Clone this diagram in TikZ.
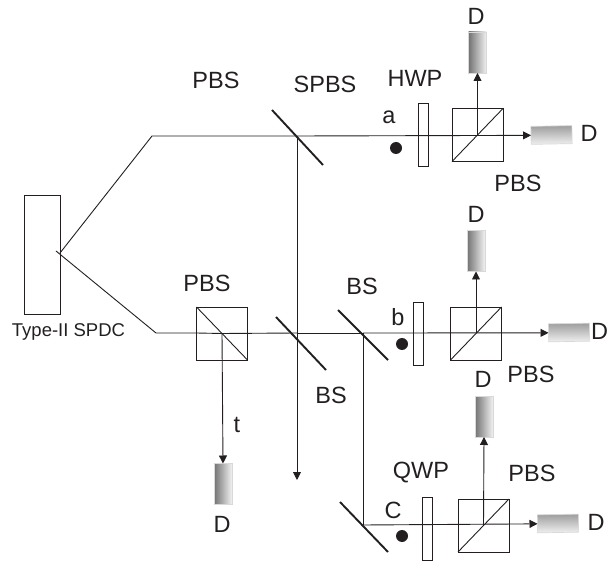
\documentclass[tikz,border=0pt]{standalone}
\usepackage{fontspec}
\setmainfont{Liberation Sans}
\usetikzlibrary{arrows.meta}
\definecolor{ink}{HTML}{231F20}
\tikzset{
  x=1pt,y=-1pt,
  beam/.style={draw=ink,line width=0.9pt},
  ray/.style={beam,-{Triangle[length=8pt,width=8pt]}},
  mirror/.style={draw=ink,line width=1.9pt},
  cube/.style={draw=ink,line width=0.9pt,minimum width=51pt,minimum height=53pt,inner sep=0,outer sep=0},
  plate/.style={draw=ink,line width=0.9pt,minimum width=10pt,minimum height=63pt,inner sep=0,outer sep=0},
  crystal/.style={draw=ink,line width=0.9pt,minimum width=36pt,minimum height=119pt,inner sep=0,outer sep=0},
  detv/.style={draw=black!15,line width=0.7pt,left color=black!55,right color=black!5,minimum width=18pt,minimum height=41pt,inner sep=0,outer sep=0},
  deth/.style={draw=black!15,line width=0.7pt,top color=black!38,bottom color=black!6,minimum width=41pt,minimum height=18pt,inner sep=0,outer sep=0,rotate=1},
  photon/.style={circle,fill=ink,minimum size=12pt,inner sep=0},
  lab/.style={inner sep=0,text=ink,font=\fontsize{23.5}{26}\selectfont},
  smalllab/.style={inner sep=0,text=ink,font=\fontsize{18.5}{21}\selectfont},
}
\begin{document}
\begin{tikzpicture}
\useasboundingbox (0,0) rectangle (608,561);
\clip (0,0) rectangle (608,561);
% key points
\coordinate (src) at (56,251);
\coordinate (srcU) at (60,253);
\coordinate (bendU) at (152,136);
\coordinate (bendL) at (156,333);
\coordinate (spbsC) at (297,136);
\coordinate (spbsA) at (272,110);
\coordinate (spbsB) at (323,165);
\coordinate (bs1A) at (276,317);
\coordinate (bs1B) at (326,370);
\coordinate (bs1C) at (297,333);
\coordinate (tipDown) at (297,480);
\coordinate (bs2A) at (338,310);
\coordinate (bs2B) at (388,360);
\coordinate (bs2C) at (363,333);
\coordinate (m3A) at (340,502);
\coordinate (m3B) at (388,552);
\coordinate (m3C) at (363,525);
% components
\node[crystal] (crys) at (42,254.5) {};
\node[cube] (cubeT) at (477.5,135) {};
\node[cube] (cubeM) at (476,333.5) {};
\node[cube] (cubeB) at (483.5,525.5) {};
\node[cube] (cubeL) at (222,333.5) {};
\node[detv] (dTu) at (477.5,52.5) {};
\node[deth] (dTr) at (551.5,135) {};
\node[detv] (dMu) at (476,251) {};
\node[deth] (dMr) at (569,332.5) {};
\node[detv] (dBu) at (484,416.5) {};
\node[deth] (dBr) at (558,523.5) {};
\node[detv] (dL) at (223,484) {};
% beams
\draw[beam] (src) -- (bendL) -- (bendL -| cubeL.west);
\draw[beam] (srcU) -- (bendU) -- (spbsC);
\draw[ray] (spbsC) -- (dTr.west);
\draw[ray] (spbsC) -- (tipDown);
\draw[beam] (bendL -| cubeL.west) -- (cubeL.center) -- (bs1C);
\draw[beam] (bs1C) -- (bs2C);
\draw[ray] (bs2C) -- (dMr.west);
\draw[beam] (bs2C) -- (m3C);
\draw[ray] (m3C) -- (dBr.west);
\draw[ray] (cubeT.center) -- (dTu.south);
\draw[ray] (cubeM.center) -- (dMu.south);
\draw[ray] (cubeB.center) -- (dBu.south);
\draw[ray] (cubeL.center) -- (dL.north);
% cube diagonals
\draw[beam] (cubeT.south west) -- (cubeT.north east);
\draw[beam] (cubeM.south west) -- (cubeM.north east);
\draw[beam] (cubeB.south west) -- (cubeB.north east);
\draw[beam] (cubeL.north west) -- (cubeL.south east);
% plates (open so the beam runs through)
\node[plate] (pT) at (423,134.5) {};
\node[plate] (pM) at (418,333.5) {};
\node[plate] (pB) at (427,528.5) {};
% mirrors
\draw[mirror] (spbsA) -- (spbsB);
\draw[mirror] (bs1A) -- (bs1B);
\draw[mirror] (bs2A) -- (bs2B);
\draw[mirror] (m3A) -- (m3B);
% photons
\node[photon] (phA) at (396,148) {};
\node[photon] (phB) at (402,344) {};
\node[photon] (phC) at (402,536) {};
% labels
\node[lab] (l1) at (216,80) {PBS};
\node[lab] (l2) at (325,84) {SPBS};
\node[lab] (l3) at (415,78) {HWP};
\node[lab] (l4) at (476,16) {D};
\node[lab] (l5) at (589,133) {D};
\node[lab] (l6) at (518,183) {PBS};
\node[lab] (l7) at (389,117) {a};
\node[lab] (l8) at (476,214) {D};
\node[lab] (l9) at (207,283) {PBS};
\node[lab] (l10) at (362,286) {BS};
\node[lab] (l11) at (398,317) {b};
\node[lab] (l12) at (599.5,331) {D};
\node[lab] (l13) at (531,374) {PBS};
\node[lab] (l14) at (483,379) {D};
\node[lab] (l15) at (331,395) {BS};
\node[lab] (l16) at (237,425) {t};
\node[lab] (l17) at (421,473) {QWP};
\node[lab] (l18) at (532,473) {PBS};
\node[lab] (l19) at (393,510) {C};
\node[lab] (l20) at (596,522) {D};
\node[lab] (l21) at (222,524) {D};
\node[smalllab] (l22) at (68.5,332) {Type-II SPDC};
\end{tikzpicture}
\end{document}
